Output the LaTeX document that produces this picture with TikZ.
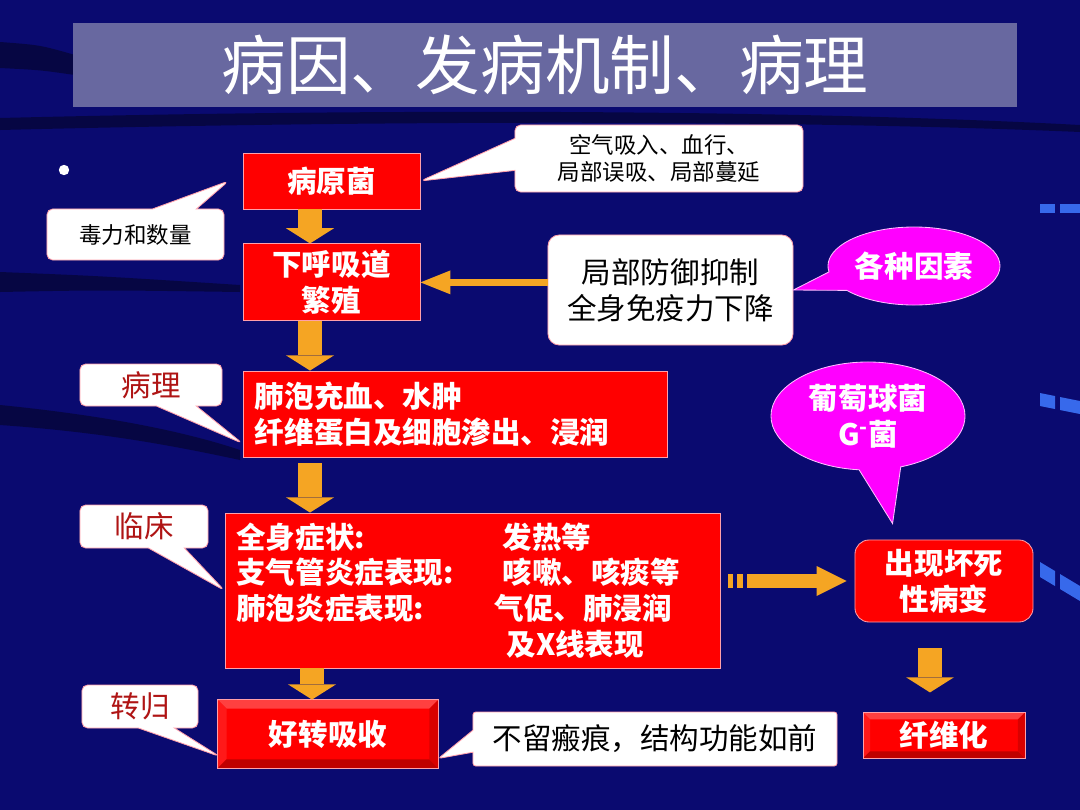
\documentclass[tikz,border=0pt]{standalone}
\usepackage{fontspec}
\setmainfont{Noto Sans CJK SC}
\usetikzlibrary{positioning,arrows.meta,calc,shapes.geometric,shapes.callouts}

\definecolor{navy}{RGB}{10,10,112}
\definecolor{barblue}{RGB}{104,104,160}
\definecolor{boxred}{RGB}{255,0,0}
\definecolor{edgepink}{RGB}{255,160,170}
\definecolor{arrorange}{RGB}{245,165,35}
\definecolor{bubble}{RGB}{255,0,255}
\definecolor{bubbleedge}{RGB}{255,190,255}
\definecolor{labelred}{RGB}{175,20,20}
\definecolor{deco}{RGB}{55,105,235}

\newcommand\titlefont{\fontsize{46}{50}\selectfont}
\newcommand\boxfont{\fontsize{21}{25.5}\selectfont}
\newcommand\notefont{\fontsize{16}{19.5}\selectfont}

% bevelled frame round a red node: #1 node name, #2 bevel width (px)
\newcommand\bevel[2]{%
  \fill[boxred!75!white] (#1.north west) -- (#1.north east)
    -- ([shift={(-#2,#2)}]#1.north east) -- ([shift={(#2,#2)}]#1.north west) -- cycle;
  \fill[boxred!90!white] (#1.north west) -- (#1.south west)
    -- ([shift={(#2,-#2)}]#1.south west) -- ([shift={(#2,#2)}]#1.north west) -- cycle;
  \fill[boxred!75!black] (#1.south west) -- (#1.south east)
    -- ([shift={(-#2,-#2)}]#1.south east) -- ([shift={(#2,-#2)}]#1.south west) -- cycle;
  \fill[boxred!85!black] (#1.north east) -- (#1.south east)
    -- ([shift={(-#2,-#2)}]#1.south east) -- ([shift={(-#2,#2)}]#1.north east) -- cycle;
  \draw[edgepink,line width=0.6pt] (#1.north west) rectangle (#1.south east);
}

\begin{document}
\begin{tikzpicture}[x=0.025cm,y=-0.025cm,
  titlebar/.style={fill=barblue,text=white,font=\titlefont,
    minimum width=23.6cm,minimum height=2.1cm,inner sep=0pt},
  redbox/.style={draw=edgepink,line width=0.6pt,fill=boxred,text=white,
    font=\boxfont\bfseries,align=center,inner sep=0pt},
  plain/.style={draw=edgepink,line width=0.6pt,fill=white,rounded corners=8pt,
    font=\boxfont,align=center,inner sep=0pt},
  note/.style={rectangle callout,draw=edgepink,line width=0.6pt,fill=white,
    rounded corners=4pt,font=\notefont,align=center,inner sep=0pt},
  tag/.style={note,font=\boxfont,text=labelred},
  bubble/.style={ellipse callout,draw=bubbleedge,line width=0.6pt,fill=bubble,
    text=white,font=\boxfont\bfseries,align=center,inner sep=0pt},
  blk/.style={arrorange,line width=0.6cm,
    -{Triangle[width=1.2cm,length=0.38cm,line width=0pt]}},
  thinblk/.style={arrorange,line width=0.18cm,
    -{Triangle[width=0.6cm,length=0.75cm,line width=0pt]}},
  midblk/.style={arrorange,line width=0.35cm,
    -{Triangle[width=0.75cm,length=0.75cm,line width=0pt]}},
  swoosh/.style={fill=black,opacity=0.4}]

% background
\useasboundingbox (0,0) rectangle (1080,810);
\fill[navy] (0,0) rectangle (1080,810);
\fill[swoosh] (0,42) .. controls (40,45) .. (75,55) -- (75,75) .. controls (40,70) .. (0,68) -- cycle;
\fill[swoosh] (0,118) .. controls (400,108) and (800,110) .. (1080,125)
  -- (1080,132) .. controls (800,120) and (400,120) .. (0,130) -- cycle;
\fill[swoosh] (0,272) .. controls (100,276) .. (240,285) -- (240,292) .. controls (100,290) .. (0,292) -- cycle;
\fill[swoosh] (0,405) .. controls (100,415) and (180,430) .. (240,450)
  -- (240,460) .. controls (170,445) and (100,432) .. (0,425) -- cycle;
\fill[deco] (1040,204) rectangle (1055,213);
\fill[deco] (1060,204) rectangle (1080,213);
\fill[deco] (1040,393) -- (1055,396) -- (1055,409) -- (1040,406) -- cycle;
\fill[deco] (1060,397) -- (1080,401) -- (1080,414) -- (1060,410) -- cycle;
\fill[deco] (1040,562) -- (1055,571) -- (1055,586) -- (1040,577) -- cycle;
\fill[deco] (1060,574) -- (1080,586) -- (1080,601) -- (1060,589) -- cycle;

\node[titlebar] (title) at (545,65) {病因、发病机制、病理};
\fill[white] (64,170) circle[radius=0.13cm];

% flow boxes
\node[redbox,minimum width=4.425cm,minimum height=1.4cm] (pathogen) at (331.5,181) {病原菌};
\node[redbox,minimum width=4.425cm,minimum height=1.925cm,below=0.85cm of pathogen] (lrt) {下呼吸道\\繁殖};
\node[redbox,minimum width=10.6cm,minimum height=2.15cm,text width=10cm,align=left] (lesion) at (455,414)
  {肺泡充血、水肿\\纤维蛋白及细胞渗出、浸润};
\node[redbox,minimum width=12.375cm,minimum height=3.875cm,text width=11.8cm,align=left] (clinic) at (472.5,590.5)
  {\makebox[6.65cm][l]{全身症状:}发热等\\
   \makebox[6.65cm][l]{支气管炎症表现:}咳嗽、咳痰等\\
   \makebox[6.45cm][l]{肺泡炎症表现:}气促、肺浸润\\
   \hspace*{6.75cm}及X线表现};
\node[redbox,rounded corners=10pt,minimum width=4.45cm,minimum height=2.05cm] (necro) at (944,581) {出现坏死\\性病变};
\node[redbox,minimum width=5.5cm,minimum height=1.7cm] (recover) at (328,734) {};
\node[redbox,minimum width=4.025cm,minimum height=1.125cm,below=2.25cm of necro] (fibro) {};
\bevel{recover}{9}
\bevel{fibro}{7}
\node[text=white,font=\boxfont\bfseries] at (recover) {好转吸收};
\node[text=white,font=\boxfont\bfseries] at (fibro) {纤维化};

% side boxes
\node[plain,minimum width=6.125cm,minimum height=2.75cm] (defense) at (670.5,290) {局部防御抑制\\全身免疫力下降};
\node[note,minimum width=7.2cm,minimum height=1.675cm,
  callout absolute pointer={(pathogen.east)},callout pointer width=0.8cm] (route) at (659,158.5)
  {空气吸入、血行、\\局部误吸、局部蔓延};
\node[note,minimum width=4.425cm,minimum height=1.275cm,
  callout absolute pointer={($(pathogen.west)+(-14,0)$)},callout pointer width=1.1cm] (virulence) at (135.5,234.5)
  {毒力和数量};
\node[bubble,minimum width=4.3cm,minimum height=1.95cm,
  callout absolute pointer={(defense.east)},callout pointer arc=30] (factors) at (914,266) {各种因素};
\node[bubble,minimum width=4.85cm,minimum height=2.7cm,
  callout absolute pointer={($(necro.north west)+(38,-16)$)},callout pointer arc=25] (staph) at (868,416)
  {葡萄球菌\\G\textsuperscript{-}菌};
\node[tag,minimum width=3.55cm,minimum height=1.05cm,
  callout absolute pointer={($(lesion.south west)+(0,-14)$)},callout pointer width=1cm] (tagpath) at (151,385) {病理};
\node[tag,minimum width=3.2cm,minimum height=1.075cm,
  callout absolute pointer={(clinic.west)},callout pointer width=0.9cm] (tagclin) at (144,526.5) {临床};
\node[tag,minimum width=2.9cm,minimum height=1.075cm,
  callout absolute pointer={($(recover.south west)+(2,-12)$)},callout pointer width=0.9cm] (tagout) at (140,706.5) {转归};
\node[note,rounded corners=2pt,font=\boxfont,minimum width=9.1cm,minimum height=1.35cm,
  callout absolute pointer={($(recover.south east)+(0,-10)$)},callout pointer width=0.55cm] (sequel) at (655,739)
  {不留瘢痕，结构功能如前};

% arrows
\draw[blk] (310,0 |- pathogen.south) -- (310,0 |- lrt.north);
\draw[blk] (310,0 |- lrt.south) -- (310,0 |- lesion.north);
\draw[blk,shorten <=0.15cm] (310,0 |- lesion.south) -- (310,0 |- clinic.north);
\draw[blk] (312,0 |- clinic.south) -- (312,0 |- recover.north);
\draw[blk,shorten <=0.65cm,shorten >=0.5cm] (930,0 |- necro.south) -- (930,0 |- fibro.north);
\draw[thinblk] (lrt.east -| defense.west) -- (lrt.east);
\fill[arrorange] ($(necro.west -| clinic.east)+(8,-7)$) rectangle +(5,14);
\fill[arrorange] ($(necro.west -| clinic.east)+(17,-7)$) rectangle +(6,14);
\draw[midblk,shorten <=0.675cm,shorten >=0.2cm] (necro.west -| clinic.east) -- (necro.west);
\end{tikzpicture}
\end{document}
